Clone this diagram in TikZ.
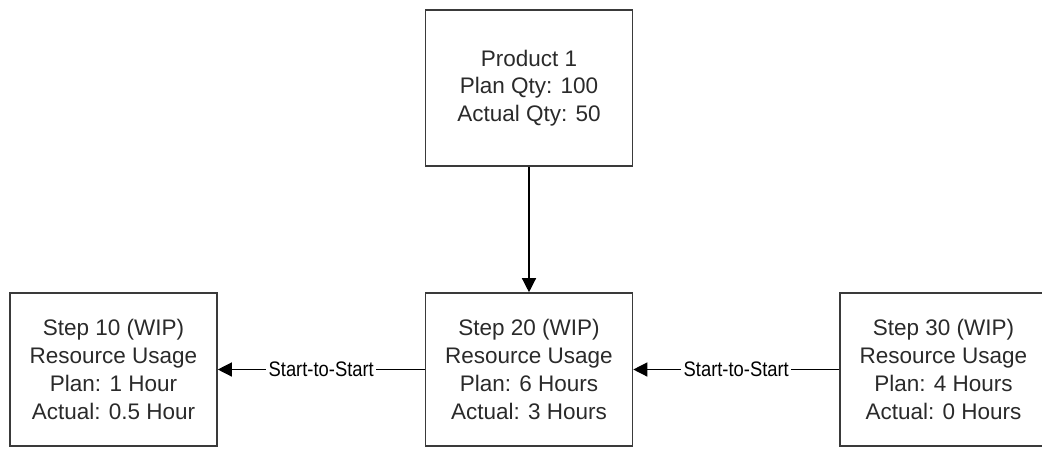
\documentclass[tikz,border=0pt]{standalone}
\usepackage{fontspec}
\setmainfont{Liberation Sans}
\usetikzlibrary{arrows.meta}
\definecolor{boxline}{HTML}{3A3A3A}
\definecolor{boxtext}{HTML}{2A2A2A}
\begin{document}
\begin{tikzpicture}[x=1pt, y=-1pt,
  box/.style={draw=boxline, line width=1.6pt, minimum width=207pt,
    inner sep=0pt, align=center, text=boxtext,
    font=\fontsize{22.5}{27.8}\selectfont},
  topbox/.style={box, minimum height=156pt},
  stepbox/.style={box, minimum height=153pt},
  link/.style={draw=black, line width=1.3pt,
    -{Triangle[length=14pt, width=14pt]}},
  tag/.style={fill=white, inner sep=2.5pt, text=black,
    font=\fontsize{21}{21}\selectfont}]
  \path[use as bounding box, clip] (0,0) rectangle (1042,448);

  % product and its three work steps
  \node[topbox] (prod) at (529,88)
    {Product 1\\Plan Qty: 100\\Actual Qty: 50};
  \node[stepbox] (s10) at (113.5,369.5)
    {Step 10 (WIP)\\Resource Usage\\Plan: 1 Hour\\Actual: 0.5 Hour};
  \node[stepbox] (s20) at (529,369.5)
    {Step 20 (WIP)\\Resource Usage\\Plan: 6 Hours\\Actual: 3 Hours};
  \node[stepbox] (s30) at (943.5,369.5)
    {Step 30 (WIP)\\Resource Usage\\Plan: 4 Hours\\Actual: 0 Hours};

  % dependencies
  \draw[link] (prod.south) -- (s20.north);
  \draw[link] (s20.west) -- node[tag] {\scalebox{0.875}[1]{Start-to-Start}} (s10.east);
  \draw[link] (s30.west) -- node[tag] {\scalebox{0.875}[1]{Start-to-Start}} (s20.east);
\end{tikzpicture}
\end{document}
